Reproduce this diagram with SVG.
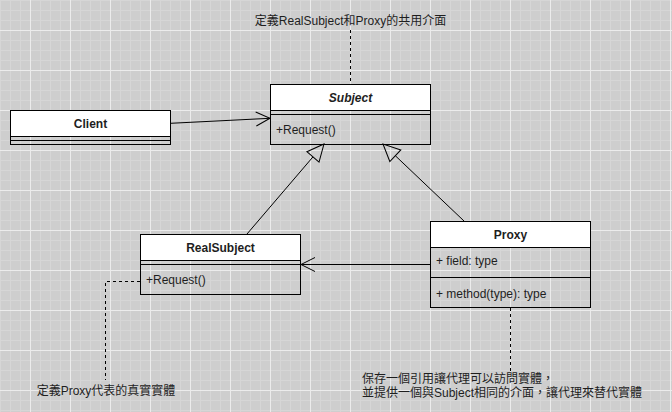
<svg xmlns="http://www.w3.org/2000/svg" width="672" height="412" viewBox="0 0 672 412">
  <defs>
    <pattern id="grid" x="30" y="30" width="40" height="40" patternUnits="userSpaceOnUse">
      <rect width="40" height="40" fill="#cecece"/>
      <rect x="10" y="0" width="1" height="40" fill="#d6d6d6"/>
      <rect x="20" y="0" width="1" height="40" fill="#d6d6d6"/>
      <rect x="30" y="0" width="1" height="40" fill="#d6d6d6"/>
      <rect x="0" y="10" width="40" height="1" fill="#d6d6d6"/>
      <rect x="0" y="20" width="40" height="1" fill="#d6d6d6"/>
      <rect x="0" y="30" width="40" height="1" fill="#d6d6d6"/>
      <rect x="0" y="0" width="1" height="40" fill="#ececec"/>
      <rect x="0" y="0" width="40" height="1" fill="#ececec"/>
    </pattern>
    <marker id="open" markerUnits="userSpaceOnUse" markerWidth="16" markerHeight="16" refX="14" refY="7" orient="auto" overflow="visible">
      <path d="M0,0 L14,7 L0,14" fill="none" stroke="#000" stroke-width="1"/>
    </marker>
    <marker id="tri" markerUnits="userSpaceOnUse" markerWidth="20" markerHeight="20" refX="0" refY="8" orient="auto" overflow="visible">
      <path d="M0,0 L17,8 L0,16 Z" fill="none" stroke="#000" stroke-width="1"/>
    </marker>
  </defs>
  <style>
    text { font-family: "Liberation Sans", Arial, "Noto Sans CJK TC", sans-serif; font-size: 12px; fill: #1e1e1e; }
    .name { font-weight: bold; text-anchor: middle; }
    .abstract { font-style: italic; }
    .note { text-anchor: middle; }
    .left { text-anchor: start; }
    .head { fill: #ffffff; stroke: #000; stroke-width: 1; }
    .body { fill: none; stroke: #000; stroke-width: 1; }
    .sep { stroke: #000; stroke-width: 1; fill: none; }
    .edge { stroke: #000; stroke-width: 1; fill: none; }
    .dash { stroke: #000; stroke-width: 1; fill: none; stroke-dasharray: 3 3; }
  </style>

  <rect width="672" height="412" fill="url(#grid)"/>

  <g id="connectors">
    <path class="edge" d="M170.5,123.3 L270,118.3" marker-end="url(#open)"/>
    <path class="edge" d="M430,264.5 L301,264.5" marker-end="url(#open)"/>
    <path class="edge" d="M247,234 L312.95,156.92" marker-end="url(#tri)"/>
    <path class="edge" d="M464,221 L395.32,155.71" marker-end="url(#tri)"/>
    <path class="dash" d="M350.5,30 V84"/>
    <path class="dash" d="M140,281.5 H105.5 V380"/>
    <path class="dash" d="M510.5,308 V372"/>
  </g>

  <g id="subject">
    <rect class="body" x="270.5" y="84.5" width="160" height="60"/>
    <rect class="head" x="270.5" y="84.5" width="160" height="26"/>
    <line class="sep" x1="270.5" y1="114.5" x2="430.5" y2="114.5"/>
    <text class="name abstract" x="350.5" y="101.5">Subject</text>
    <text class="left" x="276" y="133.5">+Request()</text>
  </g>

  <g id="client">
    <rect class="body" x="10.5" y="110.5" width="160" height="34"/>
    <rect class="head" x="10.5" y="110.5" width="160" height="26"/>
    <line class="sep" x1="10.5" y1="140.5" x2="170.5" y2="140.5"/>
    <text class="name" x="90.5" y="127.5">Client</text>
  </g>

  <g id="realsubject">
    <rect class="body" x="140.5" y="234.5" width="160" height="60"/>
    <rect class="head" x="140.5" y="234.5" width="160" height="26"/>
    <line class="sep" x1="140.5" y1="264.5" x2="300.5" y2="264.5"/>
    <text class="name" x="220.5" y="251.5">RealSubject</text>
    <text class="left" x="146" y="283.5">+Request()</text>
  </g>

  <g id="proxy">
    <rect class="body" x="430.5" y="221.5" width="160" height="86"/>
    <rect class="head" x="430.5" y="221.5" width="160" height="26"/>
    <line class="sep" x1="430.5" y1="277.5" x2="590.5" y2="277.5"/>
    <text class="name" x="510.5" y="238.5">Proxy</text>
    <text class="left" x="436" y="264.5">+ field: type</text>
    <text class="left" x="436" y="298">+ method(type): type</text>
  </g>

  <g id="note-subject">
    <text class="note" x="350.5" y="25">定義RealSubject和Proxy的共用介面</text>
  </g>

  <g id="note-realsubject">
    <text class="note" x="106" y="395">定義Proxy代表的真實實體</text>
  </g>

  <g id="note-proxy">
    <text class="left" x="362" y="383">保存一個引用讓代理可以訪問實體，</text>
    <text class="left" x="362" y="397">並提供一個與Subject相同的介面，讓代理來替代實體</text>
  </g>
</svg>
